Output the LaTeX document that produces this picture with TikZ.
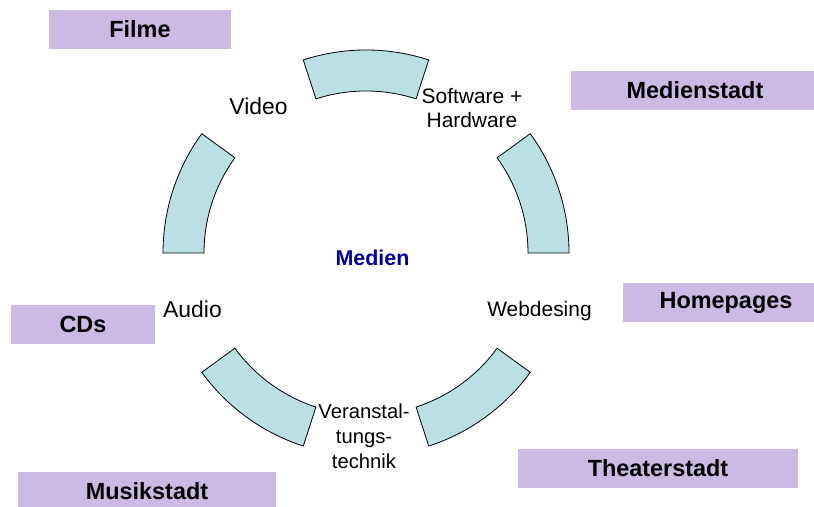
\documentclass[tikz,border=0pt]{standalone}
\usepackage{fontspec}
\setmainfont{Liberation Sans}
\usetikzlibrary{calc}
\definecolor{boxc}{RGB}{203,186,228}
\definecolor{arcc}{RGB}{186,224,227}
\definecolor{medc}{RGB}{0,0,153}
\begin{document}
\begin{tikzpicture}[x=1bp,y=1bp,
  lab/.style={fill=boxc, minimum height=39bp, inner sep=0pt, font=\fontsize{23.5}{28}\selectfont\bfseries},
  plain/.style={inner sep=0pt, font=\fontsize{23}{27.6}\selectfont},
  small/.style={inner sep=0pt, align=center, font=\fontsize{21}{25}\selectfont},
  seg/.style={draw=black, fill=arcc, line width=0.8bp, line join=miter}]
\useasboundingbox (0,0) rectangle (814,507);
\coordinate (C) at (366,254);
\foreach \a in {0,72,144,216,288}{
  \draw[seg] ($(C)+(\a:203)$) arc[start angle=\a, delta angle=36, radius=203]
     -- ($(C)+(\a+36:162)$) arc[start angle=\a+36, delta angle=-36, radius=162] -- cycle;
}
\node[lab, minimum width=182bp] (filme) at (140,477.5) {Filme};
\node[lab, minimum width=248bp] (medienstadt) at (695,416.5) {Medienstadt};
\node[lab, minimum width=206bp] (homepages) at (726,204.5) {Homepages};
\node[lab, minimum width=144bp] (cds) at (83,182.5) {CDs};
\node[lab, minimum width=258bp] (musik) at (147,15.5) {Musikstadt};
\node[lab, minimum width=280bp] (theater) at (658,38.5) {Theaterstadt};

\node[plain, anchor=base] (video) at (258.5,392) {Video};
\node[plain, anchor=base] (audio) at (192.5,189) {Audio};
\node[small] (soft) at (472,399) {Software +\\Hardware};
\node[small, anchor=base] (web) at (539.5,190) {Webdesing};
\node[small, font=\fontsize{20.3}{25}\selectfont] (veran) at (364,71) {Veranstal-\\tungs-\\technik};
\node[anchor=base, inner sep=0pt, text=medc, font=\fontsize{21.5}{25}\selectfont\bfseries] (medien) at (372.5,241) {Medien};
\end{tikzpicture}
\end{document}
